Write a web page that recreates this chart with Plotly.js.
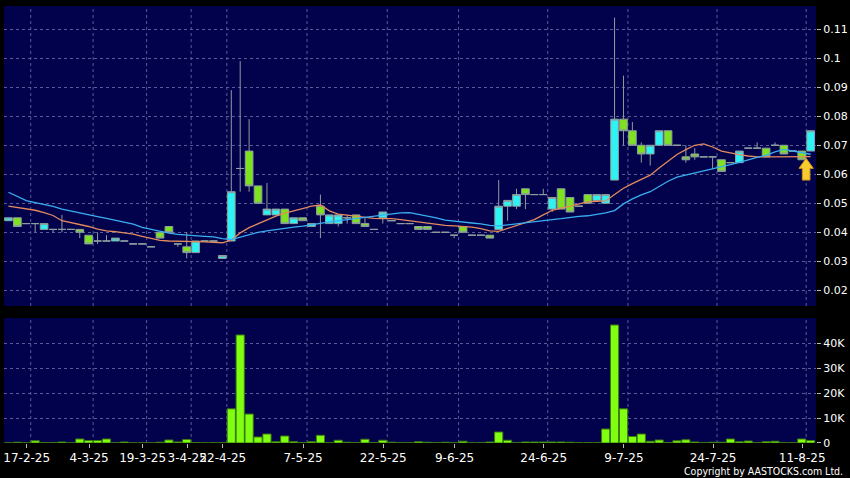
<!DOCTYPE html>
<html>
<head>
<meta charset="utf-8">
<script src="https://cdn.plot.ly/plotly-3.0.1.min.js"></script>
<style>html,body{margin:0;padding:0;background:#000;}#chart{width:850px;height:478px;}</style>
</head>
<body>
<div id="chart"></div>
<script>
// ---- data ----
const dates = ['12-2-25','13-2-25','14-2-25','17-2-25','19-2-25','20-2-25','24-2-25','26-2-25','28-2-25','3-3-25',
'4-3-25','6-3-25','10-3-25','12-3-25','14-3-25','18-3-25','19-3-25','21-3-25','26-3-25','31-3-25',
'2-4-25','3-4-25','7-4-25','9-4-25','14-4-25','22-4-25','23-4-25','24-4-25','25-4-25','28-4-25',
'29-4-25','30-4-25','2-5-25','6-5-25','7-5-25','8-5-25','9-5-25','12-5-25','13-5-25','15-5-25',
'16-5-25','19-5-25','21-5-25','22-5-25','23-5-25','26-5-25','28-5-25','30-5-25','3-6-25','5-6-25',
'6-6-25','9-6-25','10-6-25','11-6-25','12-6-25','13-6-25','16-6-25','17-6-25','19-6-25','20-6-25',
'23-6-25','24-6-25','25-6-25','26-6-25','27-6-25','30-6-25','2-7-25','3-7-25','4-7-25','8-7-25',
'9-7-25','10-7-25','11-7-25','14-7-25','15-7-25','16-7-25','17-7-25','18-7-25','21-7-25','23-7-25',
'24-7-25','25-7-25','28-7-25','29-7-25','30-7-25','31-7-25','1-8-25','4-8-25','6-8-25','8-8-25','11-8-25'];

const open = [0.044,0.045,0.043,0.043,0.041,0.041,0.041,0.041,0.041,0.039,
0.037,0.037,0.037,0.037,0.036,0.036,0.035,0.040,0.042,0.036,
0.035,0.033,0.037,0.037,0.031,0.037,0.062,0.068,0.056,0.046,
0.046,0.048,0.043,0.045,0.042,0.049,0.043,0.043,0.045,0.046,
0.043,0.041,0.045,0.044,0.043,0.043,0.042,0.042,0.040,0.040,
0.039,0.042,0.039,0.039,0.039,0.041,0.049,0.049,0.055,0.053,
0.053,0.048,0.055,0.052,0.049,0.053,0.051,0.050,0.058,0.079,
0.075,0.070,0.067,0.070,0.075,0.070,0.066,0.067,0.066,0.066,
0.065,0.064,0.064,0.069,0.069,0.069,0.070,0.070,0.068,0.068,0.068];
const high = [0.045,0.045,0.043,0.043,0.043,0.041,0.046,0.041,0.041,0.039,
0.040,0.039,0.038,0.037,0.036,0.036,0.035,0.040,0.042,0.036,
0.040,0.037,0.037,0.037,0.032,0.089,0.099,0.079,0.056,0.057,
0.048,0.048,0.045,0.045,0.043,0.053,0.046,0.046,0.046,0.046,
0.045,0.041,0.047,0.044,0.043,0.043,0.042,0.042,0.040,0.040,
0.039,0.042,0.039,0.039,0.039,0.058,0.051,0.055,0.055,0.053,
0.055,0.052,0.055,0.052,0.049,0.053,0.053,0.053,0.114,0.094,
0.078,0.071,0.070,0.075,0.075,0.070,0.070,0.069,0.066,0.066,
0.065,0.064,0.068,0.069,0.071,0.069,0.071,0.070,0.068,0.068,0.075];
const low = [0.044,0.042,0.043,0.040,0.041,0.040,0.040,0.041,0.038,0.036,
0.036,0.037,0.037,0.037,0.036,0.036,0.035,0.038,0.040,0.035,
0.031,0.033,0.037,0.037,0.031,0.037,0.054,0.054,0.050,0.046,
0.046,0.043,0.043,0.044,0.042,0.038,0.043,0.042,0.043,0.043,
0.042,0.041,0.043,0.044,0.043,0.043,0.041,0.041,0.040,0.040,
0.038,0.040,0.039,0.039,0.038,0.041,0.044,0.048,0.048,0.053,
0.053,0.047,0.048,0.047,0.049,0.050,0.051,0.050,0.058,0.070,
0.070,0.064,0.063,0.070,0.070,0.070,0.064,0.065,0.066,0.062,
0.061,0.064,0.064,0.069,0.069,0.066,0.070,0.067,0.068,0.065,0.068];
const close = [0.045,0.042,0.043,0.043,0.043,0.041,0.041,0.041,0.040,0.036,
0.037,0.037,0.038,0.037,0.036,0.036,0.035,0.038,0.040,0.036,
0.033,0.037,0.037,0.037,0.032,0.054,0.062,0.056,0.050,0.048,
0.048,0.043,0.045,0.044,0.043,0.046,0.046,0.046,0.045,0.043,
0.042,0.041,0.047,0.044,0.043,0.043,0.041,0.041,0.040,0.040,
0.039,0.040,0.039,0.039,0.038,0.049,0.051,0.053,0.053,0.053,
0.053,0.052,0.048,0.047,0.049,0.050,0.053,0.053,0.079,0.075,
0.070,0.067,0.070,0.075,0.070,0.070,0.065,0.066,0.066,0.066,
0.061,0.064,0.068,0.069,0.069,0.066,0.070,0.067,0.068,0.065,0.075];
const volume = [50,300,50,900,200,200,400,50,1600,1000,
1000,1600,100,400,50,50,50,300,1200,400,
1400,150,50,100,100,13700,43300,11600,2400,3600,
500,2800,500,200,500,3100,100,1100,300,100,
1500,100,1100,300,100,100,500,300,100,300,
100,700,50,100,400,4400,1100,100,400,400,
400,400,400,300,100,100,100,5600,47300,13700,
2600,3600,700,1200,200,900,1300,400,100,300,
300,1600,500,800,100,500,700,100,100,1600,1000];
const maShort = [0.0490,0.0485,0.0479,0.0476,0.0468,0.0458,0.0440,0.0434,0.0427,0.0420,
0.0411,0.0405,0.0402,0.0398,0.0394,0.0386,0.0378,0.0372,0.0370,0.0370,
0.0369,0.0368,0.0367,0.0366,0.0364,0.0373,0.0398,0.0416,0.0430,0.0443,
0.0456,0.0466,0.0475,0.0482,0.0490,0.0494,0.0474,0.0463,0.0459,0.0455,
0.0451,0.0448,0.0447,0.0447,0.0444,0.0440,0.0436,0.0432,0.0426,0.0424,
0.0422,0.0420,0.0418,0.0413,0.0405,0.0403,0.0413,0.0424,0.0435,0.0444,
0.0460,0.0476,0.0483,0.0489,0.0498,0.0505,0.0507,0.0508,0.0530,0.0552,
0.0568,0.0582,0.0597,0.0622,0.0645,0.0668,0.0685,0.0700,0.0705,0.0694,
0.0680,0.0673,0.0668,0.0663,0.0660,0.0660,0.0660,0.0660,0.0660,0.0660,0.0661];
const maLong = [0.0538,0.0523,0.0509,0.0502,0.0496,0.0489,0.0480,0.0473,0.0466,0.0461,
0.0454,0.0448,0.0442,0.0435,0.0428,0.0417,0.0410,0.0403,0.0397,0.0393,
0.0390,0.0388,0.0386,0.0384,0.0378,0.0375,0.0384,0.0392,0.0400,0.0405,
0.0410,0.0414,0.0418,0.0421,0.0425,0.0431,0.0436,0.0440,0.0444,0.0447,
0.0451,0.0455,0.0458,0.0463,0.0467,0.0468,0.0462,0.0458,0.0450,0.0442,
0.0438,0.0435,0.0432,0.0429,0.0424,0.0422,0.0426,0.0429,0.0432,0.0436,
0.0441,0.0444,0.0447,0.0452,0.0455,0.0457,0.0461,0.0467,0.0475,0.0498,
0.0515,0.0529,0.0540,0.0557,0.0576,0.0590,0.0597,0.0603,0.0610,0.0617,
0.0626,0.0633,0.0641,0.0650,0.0658,0.0665,0.0677,0.0686,0.0681,0.0676,0.0669];
const tickLabels = ['17-2-25','4-3-25','19-3-25','3-4-25','22-4-25','7-5-25','22-5-25','9-6-25','24-6-25','9-7-25','24-7-25','11-8-25'];
const priceTicks = [0.02,0.03,0.04,0.05,0.06,0.07,0.08,0.09,0.1,0.11];
const volTicks = [0,10000,20000,30000,40000];
const volTickText = ['0','10K','20K','30K','40K'];
const arrowBar = '8-8-25';
const copyright = 'Copyright by AASTOCKS.com Ltd.';

// ---- build ----
const idx = dates.map((d, i) => i);
const tickIdx = tickLabels.map(t => dates.indexOf(t));
const grid = '#5a5a98';
const FONT = 'DejaVu Sans, Verdana, sans-serif';

const candle = {
  type: 'candlestick', x: idx, open: open, high: high, low: low, close: close,
  xaxis: 'x', yaxis: 'y', whiskerwidth: 0,
  increasing: {fillcolor: '#2ff2f2', line: {color: '#8d9e9e', width: 1}},
  decreasing: {fillcolor: '#7ee21f', line: {color: '#8d9e9e', width: 1}},
  hoverinfo: 'skip'
};
const ma1 = {type: 'scatter', mode: 'lines', x: idx, y: maShort, xaxis: 'x', yaxis: 'y',
  line: {color: '#e38a5e', width: 1.3}, hoverinfo: 'skip'};
const ma2 = {type: 'scatter', mode: 'lines', x: idx, y: maLong, xaxis: 'x', yaxis: 'y',
  line: {color: '#3aaef0', width: 1.3}, hoverinfo: 'skip'};
const vol = {type: 'bar', x: idx, y: volume, xaxis: 'x', yaxis: 'y2',
  marker: {color: '#80ff10', line: {color: '#3c7a10', width: 1}}, hoverinfo: 'skip'};

const shapes = [];
tickIdx.forEach(i => {
  ['y domain', 'y2 domain'].forEach(yr => {
    shapes.push({type: 'line', xref: 'x', yref: yr, x0: i - 0.5, x1: i - 0.5, y0: 0, y1: 1,
      line: {color: grid, width: 1, dash: '3px,3px'}, layer: 'below'});
  });
});
const ai = dates.indexOf(arrowBar);
shapes.push({type: 'path', xref: 'x', yref: 'y', xsizemode: 'pixel', ysizemode: 'pixel',
  xanchor: ai, yanchor: low[ai],
  path: 'M 4.4,1.4 L 11.6,-8.6 L 8.2,-8.6 L 8.2,-20.3 L 0.6,-20.3 L 0.6,-8.6 L -2.8,-8.6 Z',
  fillcolor: '#f8cc30', line: {color: '#d09418', width: 1}, layer: 'above'});

const layout = {
  width: 850, height: 478,
  margin: {l: 4, r: 34, t: 6, b: 35, pad: 0},
  paper_bgcolor: '#000000', plot_bgcolor: '#02024c',
  showlegend: false, hovermode: false, boxgap: 0.12, boxgroupgap: 0.02, bargap: 0.08,
  font: {family: FONT, color: '#ffffff', size: 12},
  xaxis: {domain: [0, 1], anchor: 'y2', range: [-0.5, 90.6], showgrid: false, zeroline: false,
    tickmode: 'array', tickvals: tickIdx.map(i => i - 0.95), ticktext: tickLabels,
    ticks: 'outside', ticklen: 4, tickcolor: '#bbbbbb', tickangle: 0,
    tickfont: {family: FONT, size: 12, color: '#ffffff'}, showline: false,
    rangeslider: {visible: false}, fixedrange: true},
  yaxis: {domain: [0.3135, 1], anchor: 'x', side: 'right', range: [0.0146, 0.118],
    tickmode: 'array', tickvals: priceTicks, ticktext: priceTicks.map(v => String(v)),
    ticks: 'outside', ticklen: 4, tickcolor: '#bbbbbb',
    tickfont: {family: FONT, size: 11, color: '#ffffff'},
    showgrid: true, gridcolor: grid, griddash: '3px,3px', gridwidth: 1, zeroline: false, fixedrange: true},
  yaxis2: {domain: [0, 0.286], anchor: 'x', side: 'right', range: [0, 50100],
    tickmode: 'array', tickvals: volTicks, ticktext: volTickText,
    ticks: 'outside', ticklen: 4, tickcolor: '#bbbbbb',
    tickfont: {family: FONT, size: 11, color: '#ffffff'},
    showgrid: true, gridcolor: grid, griddash: '3px,3px', gridwidth: 1, zeroline: false, fixedrange: true},
  shapes: shapes,
  annotations: [{text: copyright, xref: 'paper', yref: 'paper', x: 1.0357, y: -0.064,
    xanchor: 'right', yanchor: 'middle', showarrow: false,
    font: {family: 'DejaVu Sans Condensed, DejaVu Sans, sans-serif', size: 10.5, color: '#ffffff'}}]
};

Plotly.newPlot('chart', [candle, vol, ma1, ma2], layout, {displayModeBar: false, staticPlot: true});
</script>
</body>
</html>
